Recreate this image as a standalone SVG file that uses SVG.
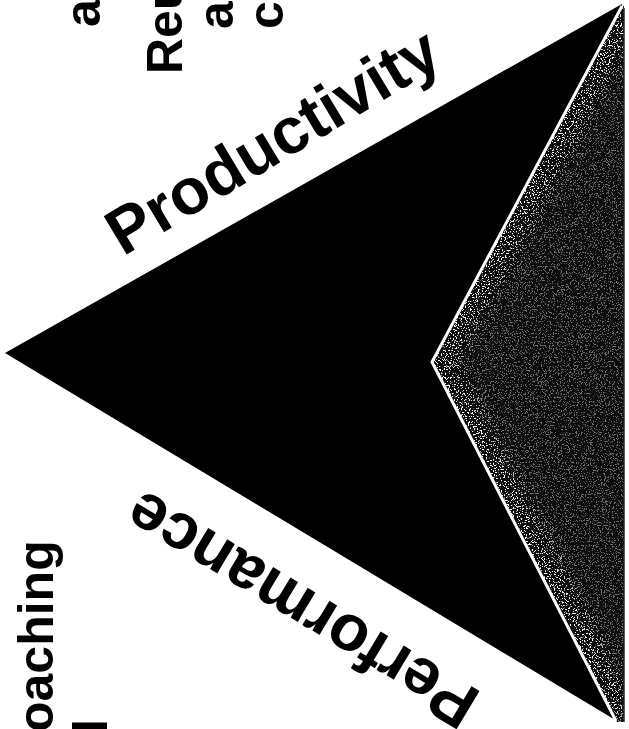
<svg xmlns="http://www.w3.org/2000/svg" width="629" height="729" viewBox="0 0 629 729">
  <style>
    .lbl { font-family: "Liberation Sans", Arial, sans-serif; font-weight: bold; fill: #000; }
    .big { font-size: 65px; }
    .small { font-size: 50px; }
  </style>
  <defs>
    <clipPath id="grayClip">
      <polygon points="433,362 623,6 624,6 624,722 617,722"/>
    </clipPath>
    <filter id="soft" x="-20%" y="-20%" width="140%" height="140%">
      <feGaussianBlur stdDeviation="7"/>
    </filter>
    <filter id="speckle" x="0" y="0" width="100%" height="100%">
      <feTurbulence type="fractalNoise" baseFrequency="0.75" numOctaves="2" seed="7" result="n"/>
      <feColorMatrix in="n" type="matrix" values="0 0 0 0 1  0 0 0 0 1  0 0 0 0 1  16 0 0 0 -9.2"/>
      <feComposite in2="SourceGraphic" operator="in"/>
    </filter>
    <mask id="bandMask">
      <rect x="420" y="0" width="209" height="729" fill="#6a6a6a"/>
      <polyline points="622,6 432,362 616,721" fill="none" stroke="#fff" stroke-width="46" filter="url(#soft)"/>
    </mask>
  </defs>
  <rect width="629" height="729" fill="#fff"/>

  <g id="triangle">
    <polygon points="5,353 622,4 617,721" fill="#000"/>
  </g>

  <g id="shaded-region">
    <polygon points="433,362 623,6 624,6 624,722 617,722" fill="#0c0c0c"/>
    <g clip-path="url(#grayClip)">
      <g mask="url(#bandMask)">
        <rect x="420" y="0" width="209" height="729" fill="#fff" filter="url(#speckle)"/>
      </g>
    </g>
    <line x1="624" y1="8" x2="624" y2="722" stroke="#222" stroke-width="1.5"/>
  </g>

  <g id="connectors">
    <polyline points="622,6 432,362 616,721" fill="none" stroke="#fff" stroke-width="3" stroke-linejoin="miter"/>
  </g>

  <g id="label-productivity">
    <text class="lbl big" text-anchor="middle" transform="translate(284,160) rotate(-31)">Productivity</text>
  </g>

  <g id="label-performance">
    <text class="lbl big" text-anchor="middle" transform="translate(313,591) rotate(-149)">Performance</text>
  </g>

  <g id="label-top">
    <text class="lbl small" transform="translate(100,27) rotate(-90)">a</text>
    <text class="lbl small" transform="translate(182,74) rotate(-90)">Reu</text>
    <text class="lbl small" transform="translate(233,29) rotate(-90)">a</text>
    <text class="lbl small" transform="translate(283,29) rotate(-90)">c</text>
  </g>

  <g id="label-bottom-left">
    <text class="lbl small" transform="translate(53,732) rotate(-90)">oaching</text>
    <text class="lbl small" transform="translate(107,733) rotate(-90)">I</text>
  </g>
</svg>
